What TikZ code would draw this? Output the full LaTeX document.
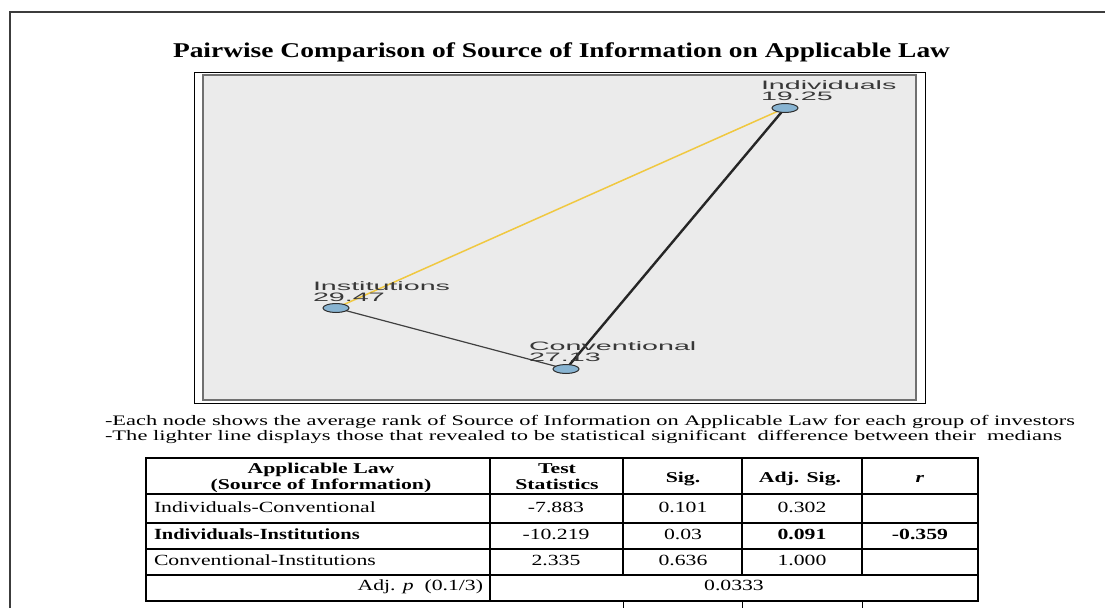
\documentclass[tikz,border=0pt]{standalone}
\usepackage{fontspec}
\setmainfont{Liberation Serif}
\newfontfamily\chartfont{Liberation Sans}
\usetikzlibrary{shapes.geometric}

\pgfdeclarelayer{panel}
\pgfdeclarelayer{links}
\pgfsetlayers{panel,links,main}

% stretch text to a given width, keeping its height
\newcommand{\fitto}[2]{\resizebox{#1}{\height}{#2}}
% widen text by a factor
\newcommand{\wide}[2]{\scalebox{#1}[1]{#2}}

\definecolor{framegray}{HTML}{3C3C3C}
\definecolor{panelbg}{HTML}{EBEBEB}
\definecolor{panelrim}{HTML}{707070}
\definecolor{nodeblue}{HTML}{88B4D2}
\definecolor{nodeedge}{HTML}{2E2E2E}
\definecolor{siggold}{HTML}{F0C840}
\definecolor{labelgray}{HTML}{383838}

\tikzset{
  txt/.style={inner sep=0pt, outer sep=0pt},
  lbl/.style={txt, anchor=base west, text=labelgray,
    font=\chartfont\fontsize{12.2}{12.2}\selectfont},
  rank/.style={ellipse, draw=nodeedge, fill=nodeblue, line width=1pt,
    minimum width=26pt, minimum height=9pt, inner sep=0pt},
  sigline/.style={draw=siggold, line width=1.5pt},
  heavyline/.style={draw=black!85, line width=2.4pt},
  thinline/.style={draw=black!75, line width=1.2pt},
  cell/.style={txt, anchor=base, font=\fontsize{15.5}{15.5}\selectfont},
  lcell/.style={cell, anchor=base west},
  head/.style={txt, anchor=base, font=\bfseries\fontsize{15}{15}\selectfont},
  note/.style={txt, anchor=base west, font=\fontsize{14.5}{14.5}\selectfont},
  grid/.style={line width=1.6pt, black},
}

\begin{document}
\begin{tikzpicture}[x=1pt,y=-1pt]
\useasboundingbox (0,0) rectangle (1105,608);

% chart panel, beneath everything else
\begin{pgfonlayer}{panel}
  \fill[white] (0,0) rectangle (1105,608);
  \draw[black, line width=0.8pt] (194,72) rectangle (925,403);
  \fill[panelbg] (203,75) rectangle (916,400);
  \draw[panelrim, line width=1.6pt] (203,75) rectangle (916,400);
\end{pgfonlayer}

% page frame
\draw[framegray, line width=1.5pt] (10,608) -- (10,12) -- (1105,12);

% title
\node[txt, anchor=base west, font=\bfseries\fontsize{21}{21}\selectfont] (title) at (173,57)
  {\fitto{777pt}{Pairwise Comparison of Source of Information on Applicable Law}};

% groups with their average ranks
\node[rank] (ind) at (785,108) {};
\node[rank] (inst) at (336,308) {};
\node[rank] (conv) at (566,369) {};

\node[lbl] (indname) at (761,89) {\wide{2.35}{Individuals}};
\node[lbl] (indrank) at (761,100) {\wide{2.35}{19.25}};
\node[lbl] (instname) at (313,290) {\wide{2.35}{Institutions}};
\node[lbl] (instrank) at (313,301) {\wide{2.35}{29.47}};
\node[lbl] (convname) at (529,350) {\wide{2.35}{Conventional}};
\node[lbl] (convrank) at (529,361) {\wide{2.35}{27.13}};

% pairwise links
\begin{pgfonlayer}{links}
  \draw[sigline] (inst.center) -- (ind.center);
  \draw[heavyline] (ind.center) -- (conv.center);
  \draw[thinline] (inst.center) -- (conv.center);
\end{pgfonlayer}

% notes
\node[note] (note1) at (105,425)
  {\fitto{970pt}{-Each node shows the average rank of Source of Information on Applicable Law for each group of investors}};
\node[note] (note2) at (105,440)
  {\fitto{957pt}{-The lighter line displays those that revealed to be statistical significant\ \ difference between their\ \ medians}};

% table grid
\draw[line width=2pt] (146,458) rectangle (978,601);
\draw[grid] (146,494) -- (978,494);
\draw[grid] (146,523) -- (978,523);
\draw[grid] (146,549) -- (978,549);
\draw[grid] (146,575) -- (978,575);
\draw[grid] (490,458) -- (490,601);
\draw[grid] (623,458) -- (623,575);
\draw[grid] (742,458) -- (742,575);
\draw[grid] (862,458) -- (862,575);
\draw[line width=1pt] (623,601) -- (623,608);
\draw[line width=1pt] (742,601) -- (742,608);
\draw[line width=1pt] (862,601) -- (862,608);

% header
\node[head] (h1a) at (321,473) {\wide{1.45}{Applicable Law}};
\node[head] (h1b) at (321,489) {\wide{1.45}{(Source of Information)}};
\node[head] (h2a) at (557,473) {\wide{1.45}{Test}};
\node[head] (h2b) at (557,489) {\wide{1.45}{Statistics}};
\node[head] (h3) at (683,482) {\wide{1.45}{Sig.}};
\node[head] (h4) at (800,482) {\wide{1.45}{Adj. Sig.}};
\node[head] (h5) at (920,482) {\wide{1.45}{\textit{r}}};

% rows
\node[lcell] (r1) at (154,512) {\wide{1.4}{Individuals-Conventional}};
\node[cell] (r1a) at (556,512) {\wide{1.4}{-7.883}};
\node[cell] (r1b) at (683,512) {\wide{1.4}{0.101}};
\node[cell] (r1c) at (802,512) {\wide{1.4}{0.302}};

\node[lcell, font=\bfseries\fontsize{15.5}{15.5}\selectfont] (r2) at (154,539) {\wide{1.32}{Individuals-Institutions}};
\node[cell] (r2a) at (556,539) {\wide{1.4}{-10.219}};
\node[cell] (r2b) at (683,539) {\wide{1.4}{0.03}};
\node[cell, font=\bfseries\fontsize{15.5}{15.5}\selectfont] (r2c) at (802,539) {\wide{1.4}{0.091}};
\node[cell, font=\bfseries\fontsize{15.5}{15.5}\selectfont] (r2d) at (920,539) {\wide{1.4}{-0.359}};

\node[lcell] (r3) at (154,565) {\wide{1.4}{Conventional-Institutions}};
\node[cell] (r3a) at (556,565) {\wide{1.4}{2.335}};
\node[cell] (r3b) at (683,565) {\wide{1.4}{0.636}};
\node[cell] (r3c) at (802,565) {\wide{1.4}{1.000}};

\node[cell, anchor=base east] (r4) at (483,590) {\wide{1.4}{Adj. \textit{p}\ \ (0.1/3)}};
\node[cell] (r4a) at (734,590) {\wide{1.4}{0.0333}};
\end{tikzpicture}
\end{document}
